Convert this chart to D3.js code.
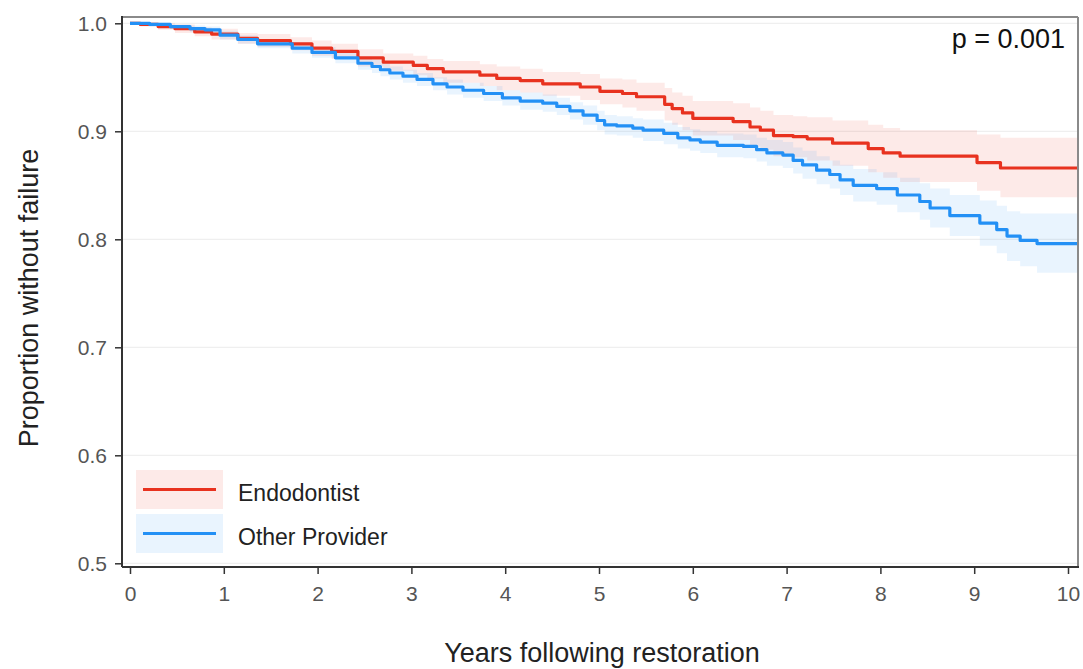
<!DOCTYPE html>
<html>
<head>
<meta charset="utf-8">
<script src="https://cdn.jsdelivr.net/npm/d3@7"></script>
<style>
  html, body { margin: 0; padding: 0; background: #ffffff; }
  svg { display: block; font-family: "Liberation Sans", Arial, sans-serif; }
</style>
</head>
<body>
<svg id="chart" width="1083" height="669"></svg>
<script>
// ---- Data ----
const seriesNames = ["Endodontist", "Other Provider"];
const endTime = 10.1;

const endoTime  = [0.00, 0.11, 0.30, 0.48, 0.69, 0.87, 1.15, 1.36, 1.71, 1.94, 2.15, 2.43, 2.70, 3.02, 3.17, 3.34, 3.73, 3.91, 4.16, 4.40, 4.80, 5.01, 5.25, 5.40, 5.70, 5.78, 5.89, 6.00, 6.43, 6.61, 6.72, 6.86, 7.07, 7.22, 7.49, 7.87, 8.03, 8.21, 9.03, 9.28];
const endoSurv  = [1.000, 0.999, 0.997, 0.995, 0.992, 0.990, 0.986, 0.984, 0.981, 0.977, 0.974, 0.968, 0.964, 0.961, 0.958, 0.955, 0.952, 0.949, 0.947, 0.944, 0.941, 0.937, 0.935, 0.932, 0.925, 0.921, 0.917, 0.912, 0.909, 0.904, 0.901, 0.896, 0.895, 0.893, 0.889, 0.884, 0.880, 0.877, 0.871, 0.866];
const endoLower = [1.000, 0.997, 0.994, 0.991, 0.988, 0.985, 0.981, 0.978, 0.975, 0.970, 0.967, 0.960, 0.956, 0.952, 0.949, 0.945, 0.942, 0.938, 0.936, 0.933, 0.929, 0.925, 0.922, 0.919, 0.910, 0.906, 0.901, 0.896, 0.892, 0.886, 0.883, 0.877, 0.876, 0.873, 0.868, 0.862, 0.857, 0.853, 0.845, 0.839];
const endoUpper = [1.000, 1.000, 1.000, 0.999, 0.996, 0.995, 0.991, 0.990, 0.987, 0.984, 0.981, 0.976, 0.972, 0.970, 0.967, 0.965, 0.962, 0.960, 0.958, 0.955, 0.953, 0.949, 0.948, 0.945, 0.940, 0.936, 0.933, 0.928, 0.926, 0.922, 0.919, 0.915, 0.914, 0.913, 0.910, 0.906, 0.903, 0.901, 0.897, 0.894];

const otherTime  = [0.00, 0.21, 0.43, 0.64, 0.80, 0.96, 1.15, 1.36, 1.73, 1.94, 2.19, 2.43, 2.58, 2.67, 2.77, 2.91, 3.06, 3.23, 3.38, 3.55, 3.77, 3.97, 4.16, 4.40, 4.55, 4.69, 4.83, 4.98, 5.06, 5.19, 5.36, 5.47, 5.69, 5.84, 5.97, 6.08, 6.26, 6.54, 6.68, 6.79, 6.96, 7.07, 7.17, 7.32, 7.46, 7.57, 7.71, 7.96, 8.18, 8.42, 8.53, 8.74, 9.06, 9.24, 9.35, 9.49, 9.67];
const otherSurv  = [1.000, 0.999, 0.997, 0.995, 0.994, 0.989, 0.985, 0.981, 0.977, 0.973, 0.968, 0.963, 0.960, 0.957, 0.954, 0.951, 0.948, 0.944, 0.941, 0.938, 0.935, 0.931, 0.928, 0.926, 0.923, 0.919, 0.915, 0.910, 0.906, 0.905, 0.903, 0.901, 0.898, 0.894, 0.892, 0.890, 0.887, 0.886, 0.883, 0.880, 0.878, 0.873, 0.869, 0.864, 0.860, 0.855, 0.850, 0.847, 0.841, 0.835, 0.829, 0.822, 0.815, 0.809, 0.803, 0.799, 0.796];
const otherLower = [1.000, 0.997, 0.995, 0.992, 0.991, 0.985, 0.981, 0.977, 0.972, 0.968, 0.963, 0.957, 0.954, 0.951, 0.948, 0.945, 0.942, 0.938, 0.934, 0.931, 0.928, 0.924, 0.920, 0.918, 0.915, 0.911, 0.906, 0.901, 0.897, 0.896, 0.894, 0.891, 0.888, 0.884, 0.882, 0.880, 0.876, 0.875, 0.872, 0.868, 0.866, 0.861, 0.856, 0.851, 0.847, 0.841, 0.835, 0.832, 0.825, 0.818, 0.811, 0.803, 0.794, 0.787, 0.780, 0.775, 0.769];
const otherUpper = [1.000, 1.000, 0.999, 0.998, 0.997, 0.993, 0.989, 0.985, 0.982, 0.978, 0.973, 0.969, 0.966, 0.963, 0.960, 0.957, 0.954, 0.950, 0.948, 0.945, 0.942, 0.938, 0.936, 0.934, 0.931, 0.927, 0.924, 0.919, 0.915, 0.914, 0.912, 0.911, 0.908, 0.904, 0.902, 0.900, 0.898, 0.897, 0.894, 0.892, 0.890, 0.885, 0.882, 0.877, 0.873, 0.869, 0.865, 0.862, 0.857, 0.852, 0.847, 0.841, 0.836, 0.831, 0.826, 0.824, 0.824];

const xTicks = [0, 1, 2, 3, 4, 5, 6, 7, 8, 9, 10];
const yTicks = [0.5, 0.6, 0.7, 0.8, 0.9, 1.0];
const xTitle = "Years following restoration";
const yTitle = "Proportion without failure";
const pLabel = "p = 0.001";

// ---- Build series ----
function build(time, surv, lower, upper) {
  const pts = time.map((t, i) => ({ t, s: surv[i], lo: lower[i], hi: upper[i] }));
  const last = pts[pts.length - 1];
  pts.push({ t: endTime, s: last.s, lo: last.lo, hi: last.hi });
  return pts;
}
const series = [
  { name: seriesNames[0], color: "#e8321f", data: build(endoTime, endoSurv, endoLower, endoUpper) },
  { name: seriesNames[1], color: "#2390f5", data: build(otherTime, otherSurv, otherLower, otherUpper) }
];

// ---- Layout ----
const panel = { left: 122, right: 1078, top: 17, bottom: 567 };
const x = d3.scaleLinear().domain([0, 10]).range([130, 1068]);
const y = d3.scaleLinear().domain([0.5, 1.0]).range([563.3, 23.3]);

const svg = d3.select("#chart");
svg.append("rect").attr("width", 1083).attr("height", 669).attr("fill", "#ffffff");

// grid
svg.append("g").selectAll("line").data(yTicks).join("line")
  .attr("x1", panel.left).attr("x2", panel.right)
  .attr("y1", d => y(d)).attr("y2", d => y(d))
  .attr("stroke", "#efefef").attr("stroke-width", 1.3);

// clip for data
svg.append("clipPath").attr("id", "clip").append("rect")
  .attr("x", panel.left).attr("y", panel.top)
  .attr("width", panel.right - panel.left).attr("height", panel.bottom - panel.top);

const gData = svg.append("g").attr("clip-path", "url(#clip)");

const area = d3.area().curve(d3.curveStepAfter)
  .x(d => x(d.t)).y0(d => y(d.lo)).y1(d => y(d.hi));
const line = d3.line().curve(d3.curveStepAfter)
  .x(d => x(d.t)).y(d => y(d.s));

series.forEach(s => {
  gData.append("path").attr("d", area(s.data))
    .attr("fill", s.color).attr("fill-opacity", 0.1).attr("stroke", "none");
});
series.forEach(s => {
  gData.append("path").attr("d", line(s.data))
    .attr("fill", "none").attr("stroke", s.color).attr("stroke-width", 3.2)
    .attr("stroke-linejoin", "round");
});

// panel border (top/right lighter)
svg.append("line").attr("x1", panel.left).attr("x2", panel.right)
  .attr("y1", panel.top).attr("y2", panel.top)
  .attr("stroke", "#8a8a8a").attr("stroke-width", 2);
svg.append("line").attr("x1", panel.right).attr("x2", panel.right)
  .attr("y1", panel.top).attr("y2", panel.bottom)
  .attr("stroke", "#8a8a8a").attr("stroke-width", 2);

// axes
const yAxis = d3.axisLeft(y).tickValues(yTicks).tickFormat(d3.format(".1f"))
  .tickSize(7).tickPadding(8);
const gy = svg.append("g").attr("transform", `translate(${panel.left},0)`).call(yAxis);
const xAxis = d3.axisBottom(x).tickValues(xTicks).tickFormat(d3.format("d"))
  .tickSize(7).tickPadding(12);
const gx = svg.append("g").attr("transform", `translate(0,${panel.bottom})`).call(xAxis);

[gx, gy].forEach(g => {
  g.select(".domain").remove();
  g.selectAll(".tick line").attr("stroke", "#333333").attr("stroke-width", 1.5);
  g.selectAll(".tick text").attr("fill", "#555555")
    .style("font-size", "21px").style("font-family", "'Liberation Sans', Arial, sans-serif");
});

// axis lines (left & bottom, dark)
svg.append("line").attr("x1", panel.left).attr("x2", panel.left)
  .attr("y1", panel.top - 1).attr("y2", panel.bottom)
  .attr("stroke", "#333333").attr("stroke-width", 2);
svg.append("line").attr("x1", panel.left).attr("x2", panel.right + 1)
  .attr("y1", panel.bottom).attr("y2", panel.bottom)
  .attr("stroke", "#333333").attr("stroke-width", 2);

// titles
svg.append("text").text(xTitle)
  .attr("x", (panel.left + panel.right) / 2 + 2).attr("y", 662)
  .attr("text-anchor", "middle").attr("fill", "#222222")
  .style("font-size", "27px");
svg.append("text").text(yTitle)
  .attr("transform", `translate(38,${(panel.top + panel.bottom) / 2 + 6}) rotate(-90)`)
  .attr("text-anchor", "middle").attr("fill", "#222222")
  .style("font-size", "27px");

// p value
svg.append("text").text(pLabel)
  .attr("x", 1065).attr("y", 48).attr("text-anchor", "end")
  .attr("fill", "#111111").style("font-size", "27px");

// legend
const legend = svg.append("g");
const keyY = [470, 514];
series.forEach((s, i) => {
  const g = legend.append("g").attr("transform", `translate(136,${keyY[i]})`);
  g.append("rect").attr("width", 87).attr("height", 39)
    .attr("fill", s.color).attr("fill-opacity", 0.1);
  g.append("line").attr("x1", 7).attr("x2", 80).attr("y1", 19.5).attr("y2", 19.5)
    .attr("stroke", s.color).attr("stroke-width", 3);
  g.append("text").text(s.name).attr("x", 102).attr("y", 30.5)
    .attr("fill", "#222222").style("font-size", "23px");
});
</script>
</body>
</html>
